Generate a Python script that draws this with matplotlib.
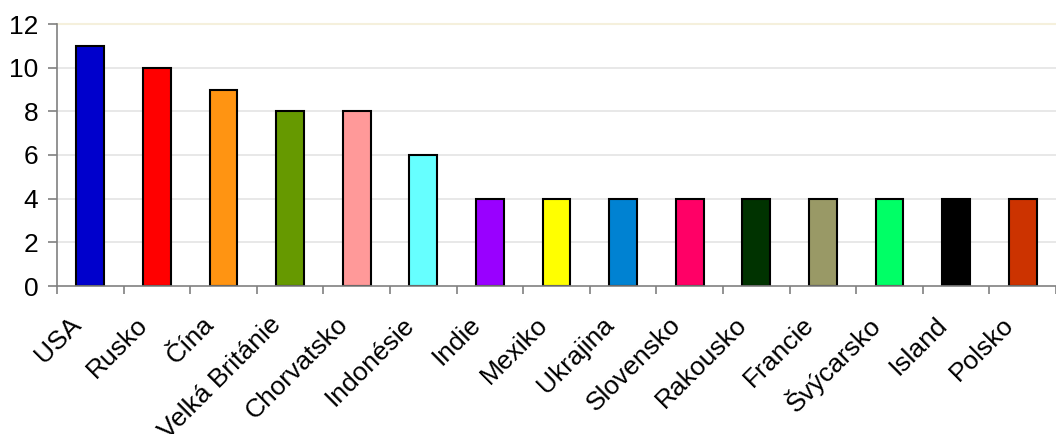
import matplotlib
matplotlib.use("Agg")
import matplotlib.pyplot as plt
import matplotlib.transforms as mtransforms
import numpy as np

categories = ["USA", "Rusko", "Čína", "Velká Británie", "Chorvatsko", "Indonésie",
              "Indie", "Mexiko", "Ukrajina", "Slovensko", "Rakousko", "Francie",
              "Švýcarsko", "Island", "Polsko"]
values = [11, 10, 9, 8, 8, 6, 4, 4, 4, 4, 4, 4, 4, 4, 4]
colors = ["#0000CC", "#FF0000", "#FF9412", "#669900", "#FF9999", "#66FFFF",
          "#9900FF", "#FFFF00", "#0082D2", "#FF0066", "#003300", "#999966",
          "#00FF66", "#000000", "#CC3300"]
yticks = [0, 2, 4, 6, 8, 10, 12]

plt.rcParams['font.family'] = ['Liberation Sans', 'DejaVu Sans']

fig = plt.figure(figsize=(10.56, 4.34), dpi=100)
ax = fig.add_axes([57/1056, 1 - 286/434, (1056 - 57)/1056, (286 - 24)/434])

x = np.arange(len(categories))
ax.bar(x, values, width=0.42, color=colors, edgecolor="black", linewidth=1.5, zorder=3)

ax.set_xlim(-0.5, len(categories) - 0.5)
ax.set_ylim(0, 12)
ax.set_yticks(yticks)
ax.set_yticklabels([str(v) for v in yticks], fontsize=19)

for v in yticks[1:-1]:
    ax.axhline(v, color="#E4E4E4", linewidth=1.2, zorder=1)
ax.axhline(12, color="#F5F0DC", linewidth=1.5, zorder=1, clip_on=False)

# ticks at category boundaries, labels at centers
ax.set_xticks(np.arange(-0.5, len(categories), 1.0))
ax.set_xticklabels([])
ax.set_xticks(x, minor=True)
ax.set_xticklabels(categories, minor=True, rotation=45, ha="right", va="center",
                   rotation_mode="anchor", fontsize=19)
ax.tick_params(axis="x", which="minor", length=0, pad=25)
ax.tick_params(axis="x", which="major", length=5.5, color="#808080", width=1.2)
ax.tick_params(axis="y", length=6.5, color="#808080", width=1.2, pad=7)

offset = mtransforms.ScaledTranslation(-13/100, 0, fig.dpi_scale_trans)
for lbl in ax.get_xticklabels(minor=True):
    lbl.set_transform(lbl.get_transform() + offset)

for s in ["top", "right"]:
    ax.spines[s].set_visible(False)
for s in ["left", "bottom"]:
    ax.spines[s].set_color("#808080")
    ax.spines[s].set_linewidth(1.2)
    ax.spines[s].set_zorder(4)

fig.savefig("out.png", dpi=100)
